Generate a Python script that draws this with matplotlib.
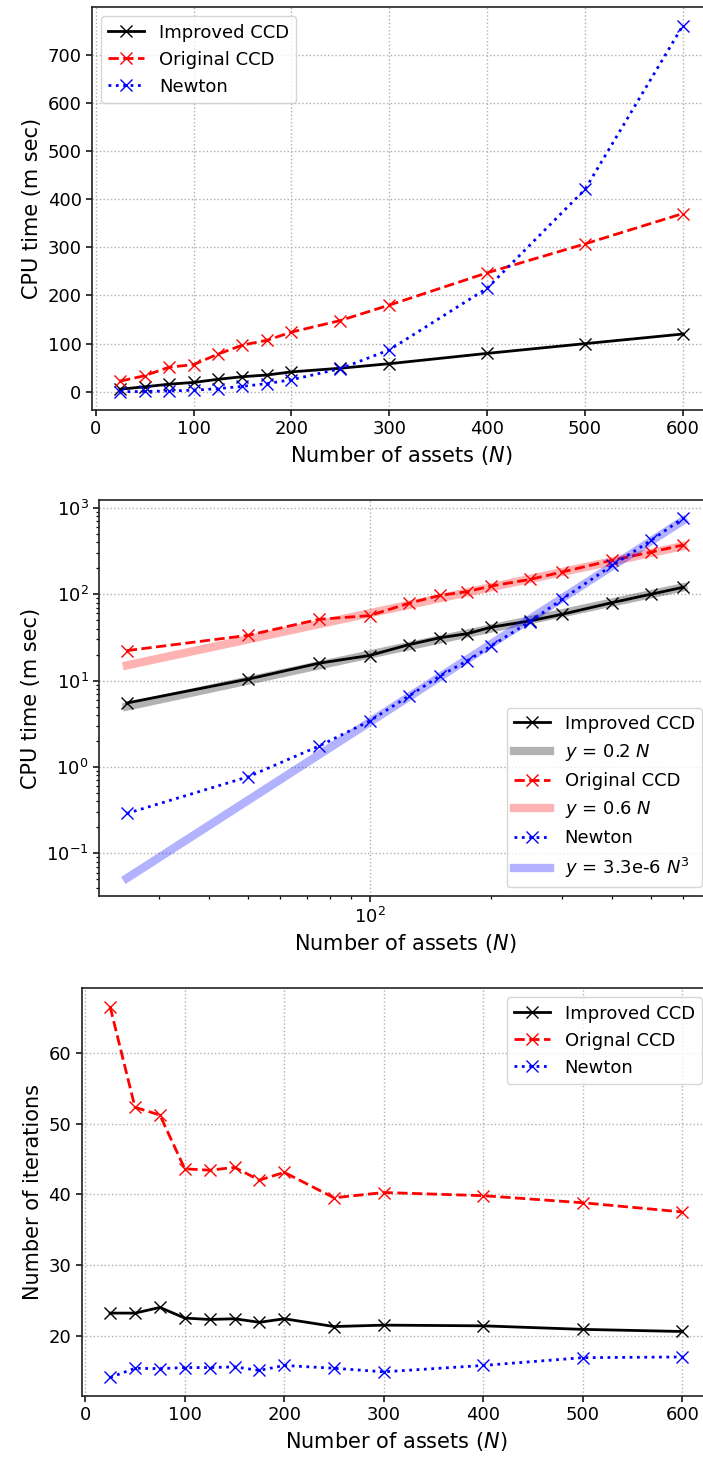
import matplotlib
matplotlib.use("Agg")
import matplotlib.pyplot as plt
import numpy as np

N = [25, 50, 75, 100, 125, 150, 175, 200, 250, 300, 400, 500, 600]
improved_time = [5.5, 10.4, 15.9, 19.5, 26, 31.4, 34.9, 41.4, 49, 58.4, 79.8, 100, 120]
original_time = [22.2, 33.4, 51.2, 56.4, 78.3, 97, 107, 124, 148, 180, 247, 307, 370]
newton_time = [0.29, 0.77, 1.75, 3.4, 6.6, 11.4, 17, 25.1, 48, 87, 215, 420, 760]

improved_iter = [23.2, 23.2, 24.0, 22.5, 22.3, 22.4, 21.9, 22.4, 21.3, 21.5, 21.4, 20.9, 20.6]
original_iter = [66.5, 52.3, 51.2, 43.6, 43.4, 43.8, 42.0, 43.1, 39.5, 40.25, 39.8, 38.8, 37.5]
newton_iter = [14.1, 15.4, 15.35, 15.5, 15.5, 15.6, 15.1, 15.8, 15.4, 14.9, 15.8, 16.9, 17.0]

fit_coef_improved = 0.2
fit_coef_original = 0.6
fit_coef_newton = 3.3e-6

W, H = 703, 1459
fig = plt.figure(figsize=(W / 100, H / 100), dpi=100)

def ax_at(left, top, right, bottom):
    return fig.add_axes([left / W, (H - bottom) / H, (right - left) / W, (bottom - top) / H])

LBL = 15
TCK = 13
LEG = 13
ms = 8
lw = 2

def style(ax):
    ax.tick_params(labelsize=TCK, width=1.1, length=4)
    ax.tick_params(which='minor', width=0.9, length=2.5)
    for s in ax.spines.values():
        s.set_linewidth(1.2)
        s.set_color('#222222')
    ax.grid(True, ls=':', color='#b0b0b0', lw=1)

# Panel 1
ax1 = ax_at(92, 7.3, 711, 410)
ax1.plot(N, improved_time, 'k-x', lw=lw, ms=ms, label='Improved CCD')
ax1.plot(N, original_time, 'r--x', lw=lw, ms=ms, label='Original CCD')
ax1.plot(N, newton_time, 'b:x', lw=lw, ms=ms, label='Newton')
ax1.set_xlabel('Number of assets ($N$)', fontsize=LBL)
ax1.set_ylabel('CPU time (m sec)', fontsize=LBL)
style(ax1)
ax1.legend(loc='upper left', fontsize=LEG)

# Panel 2
ax2 = ax_at(99, 500, 711, 896.3)
Na = np.array(N, dtype=float)
ax2.plot(N, improved_time, 'k-x', lw=lw, ms=ms, label='Improved CCD')
ax2.plot(N, fit_coef_improved * Na, '-', color='k', alpha=0.3, lw=6, label='$y$ = 0.2 $N$')
ax2.plot(N, original_time, 'r--x', lw=lw, ms=ms, label='Original CCD')
ax2.plot(N, fit_coef_original * Na, '-', color='r', alpha=0.3, lw=6, label='$y$ = 0.6 $N$')
ax2.plot(N, newton_time, 'b:x', lw=lw, ms=ms, label='Newton')
ax2.plot(N, fit_coef_newton * Na ** 3, '-', color='b', alpha=0.3, lw=6, label='$y$ = 3.3e-6 $N^3$')
ax2.set_xscale('log')
ax2.set_yscale('log')
ax2.set_xlabel('Number of assets ($N$)', fontsize=LBL)
ax2.set_ylabel('CPU time (m sec)', fontsize=LBL)
style(ax2)
ax2.legend(loc='lower right', fontsize=LEG)

# Panel 3
ax3 = ax_at(81.5, 988.3, 711, 1396)
ax3.plot(N, improved_iter, 'k-x', lw=lw, ms=ms, label='Improved CCD')
ax3.plot(N, original_iter, 'r--x', lw=lw, ms=ms, label='Orignal CCD')
ax3.plot(N, newton_iter, 'b:x', lw=lw, ms=ms, label='Newton')
ax3.set_xlabel('Number of assets ($N$)', fontsize=LBL)
ax3.set_ylabel('Number of iterations', fontsize=LBL)
style(ax3)
ax3.legend(loc='upper right', fontsize=LEG)

fig.savefig('out.png', dpi=100)
